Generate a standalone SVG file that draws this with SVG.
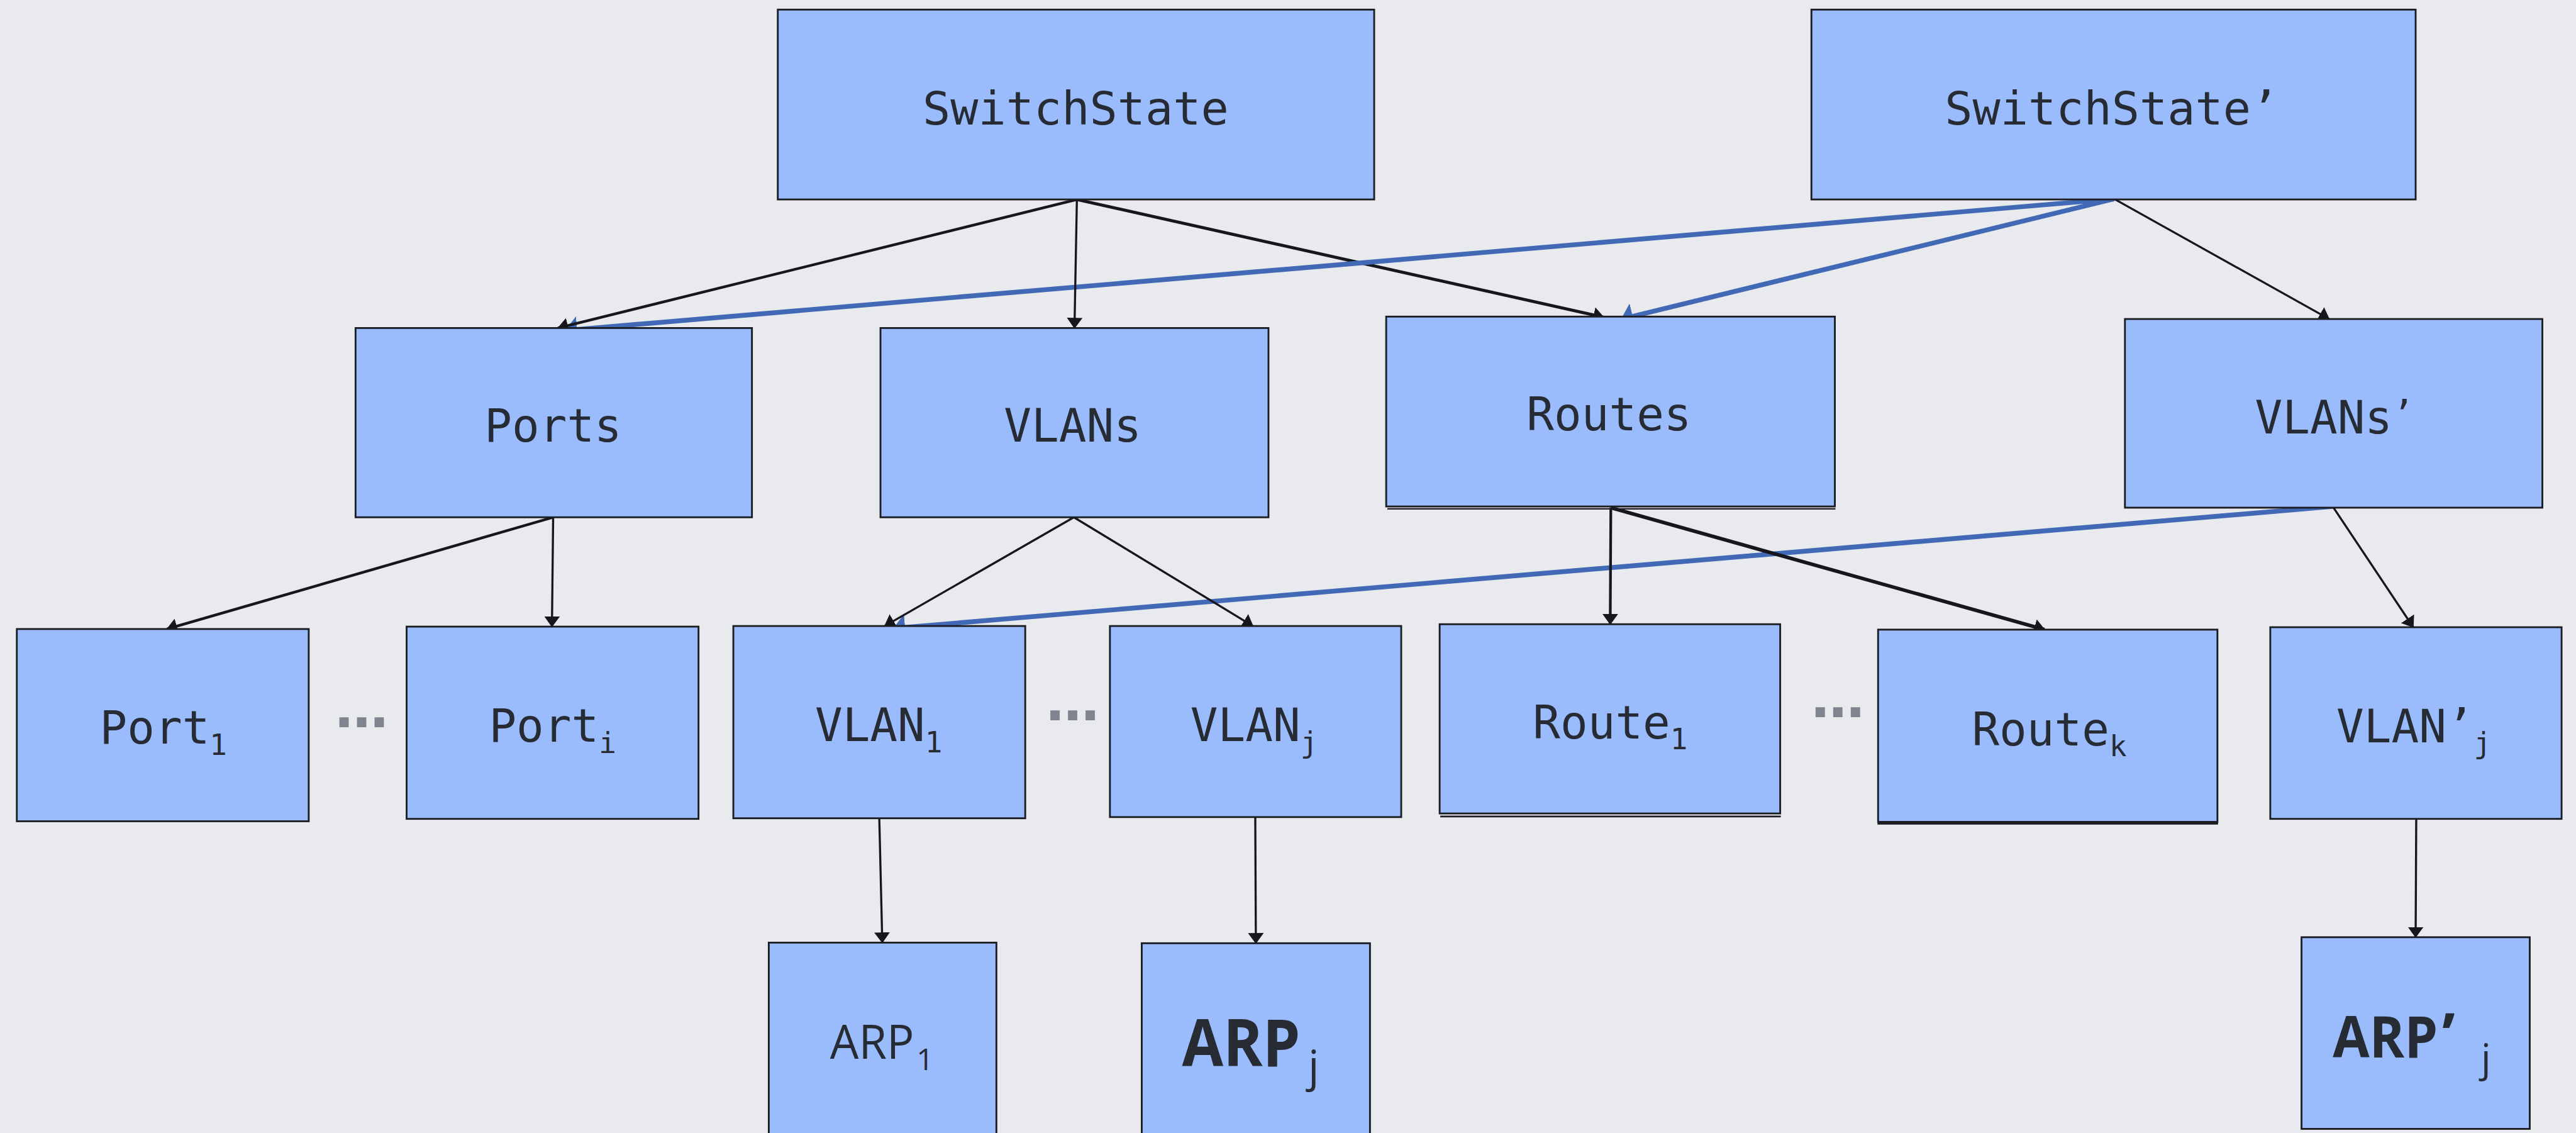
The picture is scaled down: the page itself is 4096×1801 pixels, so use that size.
<svg xmlns="http://www.w3.org/2000/svg" width="4096" height="1801" viewBox="0 0 4096 1801">
<defs>
<style>
.box{fill:#9abcfd;stroke:#1b1d22;stroke-width:3}
.lbl{font-family:"DejaVu Sans Mono",monospace;font-size:76px;fill:#272b33;text-anchor:middle}
.sub{font-size:48px}
.arp{font-family:"Open Sans","Noto Sans",sans-serif;fill:#272b33}
.dots{font-family:"DejaVu Sans",sans-serif;font-weight:700;font-size:88px;fill:#7f858f;text-anchor:middle}
.blk{stroke:#15171c;fill:none;stroke-width:3.5;marker-end:url(#ah)}
.blu{stroke:#4169b5;fill:none;stroke-width:8;marker-end:url(#ahb)}
.xline{stroke:#1b1d22;fill:none}
</style>
<marker id="ah" viewBox="0 0 18 26" refX="17" refY="13" markerWidth="18" markerHeight="26" markerUnits="userSpaceOnUse" orient="auto"><path d="M0,0 L18,13 L0,26 z" fill="#15171c"/></marker>
<marker id="ahb" viewBox="0 0 20 44" refX="19" refY="22" markerWidth="20" markerHeight="44" markerUnits="userSpaceOnUse" orient="auto"><path d="M0,0 L20,22 L0,44 z" fill="#4169b5"/></marker>
</defs>
<rect x="0" y="0" width="4096" height="1801" fill="#e9eaee"/>
<g transform="scale(0.955)">
<g id="connectors">
<line class="blk" x1="1793" y1="332" x2="2670" y2="528" style="stroke-width:5"/>
<line class="blu" x1="3520" y1="331" x2="942" y2="550"/>
<line class="blu" x1="3520" y1="331" x2="2700" y2="531"/>
<line class="blu" x1="3884" y1="843" x2="1488" y2="1046"/>
<line class="blk" x1="1793" y1="332" x2="929" y2="546" style="stroke-width:4.5"/>
<line class="blk" x1="1793" y1="332" x2="1789" y2="546"/>
<line class="blk" x1="3520" y1="331" x2="3878" y2="531"/>
<line class="blk" x1="921" y1="861" x2="278" y2="1047" style="stroke-width:4.5"/>
<line class="blk" x1="921" y1="861" x2="919" y2="1043"/>
<line class="blk" x1="1788" y1="861" x2="1473" y2="1042"/>
<line class="blk" x1="1788" y1="861" x2="2086" y2="1042"/>
<line class="blk" x1="2682" y1="845" x2="2681" y2="1039" style="stroke-width:4.5"/>
<line class="blk" x1="2682" y1="845" x2="3404" y2="1048" style="stroke-width:6"/>
<line class="blk" x1="3884" y1="843" x2="4018" y2="1044"/>
<line class="blk" x1="1464" y1="1362" x2="1469" y2="1569"/>
<line class="blk" x1="2090" y1="1360" x2="2091" y2="1570"/>
<line class="blk" x1="4023" y1="1363" x2="4022" y2="1560"/>
</g>
<g id="n-switchstate">
<rect class="box" x="1295" y="16" width="993" height="316"/>
<text class="lbl" x="1791" y="207" style="font-size:77px">SwitchState</text>
</g>
<g id="n-switchstate2">
<rect class="box" x="3016" y="16" width="1006" height="316"/>
<text class="lbl" x="3516" y="207" style="font-size:77px">SwitchState’</text>
</g>
<g id="n-ports">
<rect class="box" x="592" y="546" width="660" height="315"/>
<text class="lbl" x="921" y="735">Ports</text>
</g>
<g id="n-vlans">
<rect class="box" x="1466" y="546" width="646" height="315"/>
<text class="lbl" x="1786" y="735">VLANs</text>
</g>
<g id="n-routes">
<rect class="box" x="2308" y="527" width="747" height="316"/>
<line class="xline" x1="2310" y1="847" x2="3056" y2="847" stroke-width="2.5"/>
<text class="lbl" x="2679" y="716">Routes</text>
</g>
<g id="n-vlans2">
<rect class="box" x="3538" y="531" width="695" height="314"/>
<text class="lbl" x="3887" y="721">VLANs<tspan dy="-12" style="font-size:60px">’</tspan></text>
</g>
<g id="n-port1">
<rect class="box" x="28" y="1047" width="486" height="320"/>
<text class="lbl" x="272" y="1238">Port<tspan class="sub" dy="19">1</tspan></text>
</g>
<g id="n-porti">
<rect class="box" x="677" y="1043" width="486" height="320"/>
<text class="lbl" x="920" y="1235">Port<tspan class="sub" dy="18">i</tspan></text>
</g>
<g id="n-vlan1">
<rect class="box" x="1221" y="1042" width="486" height="320"/>
<text class="lbl" x="1463" y="1234">VLAN<tspan class="sub" dy="18">1</tspan></text>
</g>
<g id="n-vlanj">
<rect class="box" x="1848" y="1042" width="485" height="318"/>
<text class="lbl" x="2088" y="1234">VLAN<tspan class="sub" dy="18">j</tspan></text>
</g>
<g id="n-route1">
<rect class="box" x="2397" y="1039" width="567" height="315"/>
<line class="xline" x1="2398" y1="1359" x2="2965" y2="1359" stroke-width="3"/>
<text class="lbl" x="2681" y="1229">Route<tspan class="sub" dy="18">1</tspan></text>
</g>
<g id="n-routek">
<rect class="box" x="3127" y="1048" width="565" height="320"/>
<line class="xline" x1="3126" y1="1370" x2="3693" y2="1370" stroke-width="5"/>
<text class="lbl" x="3412" y="1241">Route<tspan class="sub" dy="18">k</tspan></text>
</g>
<g id="n-vlan2j">
<rect class="box" x="3780" y="1044" width="485" height="319"/>
<text class="lbl" x="4019" y="1236">VLAN’<tspan class="sub" dy="17">j</tspan></text>
</g>
<g id="n-arp1">
<rect class="box" x="1280" y="1569" width="379" height="340"/>
<text class="arp" x="1382" y="1762" font-size="78" textLength="140" lengthAdjust="spacingAndGlyphs">ARP</text>
<text class="arp" x="1526" y="1781" font-size="50">1</text>
</g>
<g id="n-arpj">
<rect class="box" x="1901" y="1570" width="380" height="340"/>
<text class="arp" x="1968" y="1775" font-size="109" font-weight="700" textLength="197" lengthAdjust="spacingAndGlyphs">ARP</text>
<text class="arp" x="2178" y="1800" font-size="73">j</text>
</g>
<g id="n-arp2j">
<rect class="box" x="3832" y="1560" width="380" height="319"/>
<text class="arp" x="3884" y="1760" font-size="96" font-weight="700" textLength="175" lengthAdjust="spacingAndGlyphs">ARP</text>
<text class="arp" x="4066" y="1758" font-size="100" font-weight="700">’</text>
<text class="arp" x="4131" y="1784" font-size="65">j</text>
</g>
<g id="ellipses">
<text class="dots" x="602" y="1211">…</text>
<text class="dots" x="1786" y="1199">…</text>
<text class="dots" x="3060" y="1194">…</text>
</g>
</g>
</svg>
